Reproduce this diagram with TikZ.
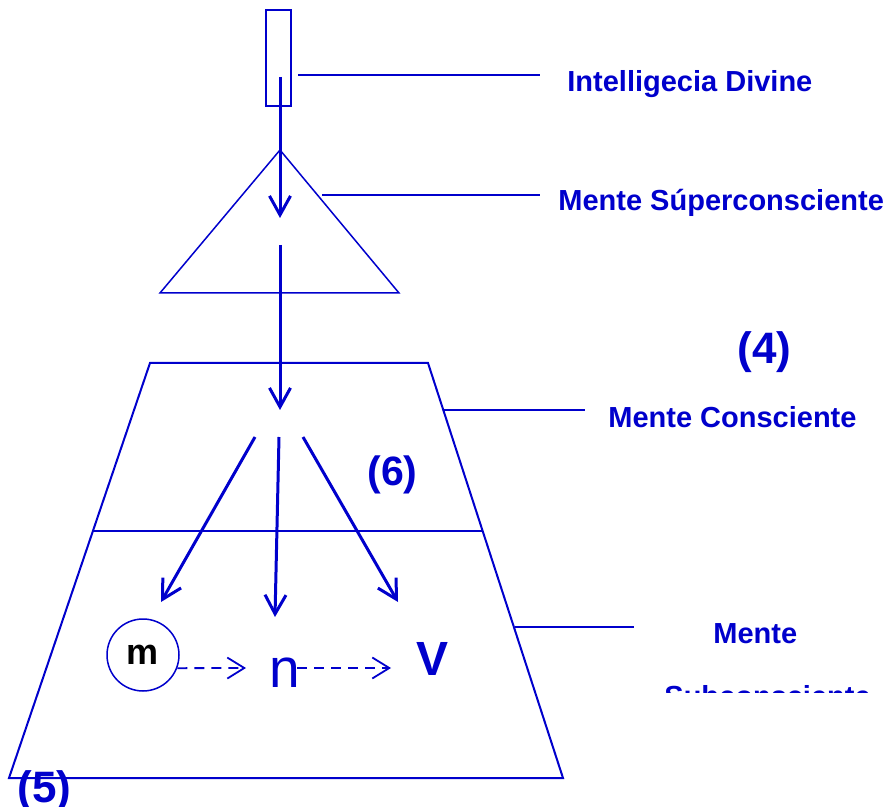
\documentclass[tikz,border=0pt]{standalone}
\usepackage{fontspec}
\setmainfont{Liberation Sans}
\usetikzlibrary{arrows.meta, positioning}
\definecolor{mblue}{HTML}{0000CC}
\tikzset{
  outline/.style   = {draw=mblue, line width=1pt, line join=miter},
  thinline/.style  = {draw=mblue, line width=0.75pt},
  leader/.style    = {draw=mblue, line width=0.75pt},
  flowarrow/.style = {draw=mblue, line width=1.5pt,
                      -{Straight Barb[length=9.5pt, width=10.5pt]}},
  dasharrow/.style = {draw=mblue, line width=0.9pt, dash pattern=on 5pt off 3.5pt,
                      -{Straight Barb[length=8.5pt, width=10.5pt]}},
  mindlabel/.style = {text=mblue, font=\fontsize{14.5}{17}\selectfont\bfseries,
                      inner sep=0pt, anchor=base west},
  numlabel/.style  = {mindlabel, font=\fontsize{22}{26}\selectfont\bfseries},
}

\begin{document}
\begin{tikzpicture}[x=0.5pt, y=-0.5pt]
  \useasboundingbox (0,0) rectangle (894,807);
  % divine intelligence and superconscious
  \node[draw=mblue, line width=0.9pt, minimum width=12.5pt, minimum height=48pt,
    inner sep=0pt] (divine) at (278.5,58) {};
  \coordinate (apex) at (280,150);
  \coordinate (triR) at (399,293);
  \coordinate (triL) at (160,293);
  \draw[thinline] (apex) -- (triR) -- (triL) -- cycle;
  \coordinate (a1s) at (280,77);
  \coordinate (a1e) at (280,218);
  \draw[flowarrow] (a1s) -- (a1e);
  \coordinate (a2s) at (280,245);
  \coordinate (a2e) at (280,410);
  \draw[flowarrow] (a2s) -- (a2e);
  % conscious / subconscious
  \coordinate (tzTL) at (150,363);
  \coordinate (tzTR) at (428,363);
  \coordinate (tzBR) at (563,778);
  \coordinate (tzBL) at (9,778);
  \draw[outline] (tzTL) -- (tzTR) -- (tzBR) -- (tzBL) -- cycle;
  \coordinate (midL) at (93,531);
  \coordinate (midR) at (483,531);
  \draw[thinline] (midL) -- (midR);
  \coordinate (splitL) at (255,437);
  \coordinate (splitC) at (279,437);
  \coordinate (splitR) at (303,437);
  \coordinate (tipL) at (161,602);
  \coordinate (tipC) at (275,617);
  \coordinate (tipR) at (398,602);
  \draw[flowarrow] (splitL) -- (tipL);
  \draw[flowarrow] (splitC) -- (tipC);
  \draw[flowarrow] (splitR) -- (tipR);
  % m -> n -> V
  \node[circle, draw=mblue, line width=0.75pt, minimum size=36pt, inner sep=0pt,
    font=\fontsize{18}{20}\selectfont\bfseries] (m) at (143,655) {m};
  \node[text=mblue, font=\fontsize{27.5}{30}\selectfont, inner sep=0pt,
    anchor=base] (n) at (285,687) {n};
  \node[text=mblue, font=\fontsize{24}{28}\selectfont\bfseries, inner sep=0pt,
    anchor=base] (v) at (433,675) {V};
  \coordinate (d1e) at (246,668);
  \coordinate (d2s) at (297,668);
  \coordinate (d2e) at (391,668);
  \draw[dasharrow] (m.-21) -- (d1e);
  \draw[dasharrow] (d2s) -- (d2e);
  % leaders and labels
  \coordinate (l1s) at (298,75);  \coordinate (l1e) at (540,75);
  \coordinate (l2s) at (322,195); \coordinate (l2e) at (540,195);
  \coordinate (l3s) at (443,410); \coordinate (l3e) at (585,410);
  \coordinate (l4s) at (515,627); \coordinate (l4e) at (634,627);
  \draw[leader] (l1s) -- (l1e);
  \draw[leader] (l2s) -- (l2e);
  \draw[leader] (l3s) -- (l3e);
  \draw[leader] (l4s) -- (l4e);
  \node[mindlabel] (divlbl) at (567,92) {Intelligecia Divine};
  \node[mindlabel] (suplbl) at (558,211) {Mente Súperconsciente};
  \node[mindlabel] (conlbl) at (608,428) {Mente Consciente};
  \node[mindlabel] (sublbl) at (713,643) {Mente};
  \begin{scope}
    \clip (600,600) rectangle (894,692);
    \node[mindlabel] (sublbl2) at (664,706) {Subconsciente};
  \end{scope}
  \node[numlabel] (num4) at (737,364) {(4)};
  \node[numlabel, font=\fontsize{20.5}{24}\selectfont\bfseries] (num6) at (367,486) {(6)};
  \node[numlabel] (num5) at (17,802) {(5)};
\end{tikzpicture}
\end{document}
